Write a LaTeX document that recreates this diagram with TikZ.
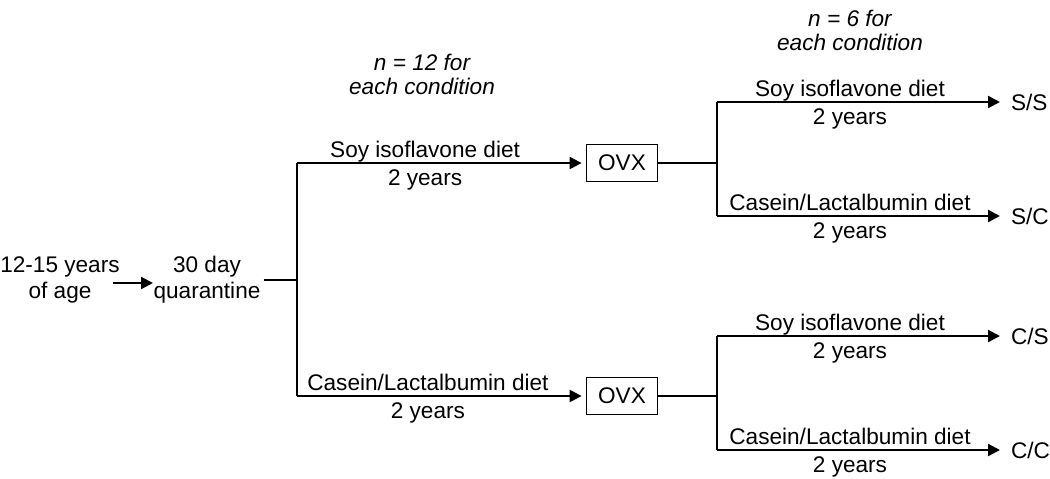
\documentclass[tikz,border=0pt]{standalone}
\usepackage{fontspec}
\setmainfont{Liberation Sans}
\usetikzlibrary{arrows.meta}
\tikzset{
  arr/.style={-{Triangle[length=6pt,width=6pt]}},
  ovxbox/.style={draw, line width=0.9pt, minimum width=35.5pt, minimum height=18.5pt, inner sep=1pt},
  txt/.style={align=center, inner sep=1pt},
  ntxt/.style={align=center, inner sep=1pt, font=\fontsize{11.3}{12}\selectfont\itshape},
  dietup/.style={anchor=base, yshift=2.8pt, inner sep=0pt},
  dietdn/.style={anchor=base, yshift=-11pt, inner sep=0pt},
  grp/.style={anchor=west, inner sep=1pt},
}
\begin{document}
\begin{tikzpicture}[x=0.5pt, y=-0.5pt, font=\fontsize{11.3}{13}\selectfont, line width=1.1pt]
  \useasboundingbox (0,0) rectangle (1050,478);
  \draw
    (60,280) node[txt] (age){12-15 years\\of age}
    (207,280) node[txt] (quar){30 day\\quarantine}
    (622,163) node[ovxbox] (ovxS){OVX}
    (622,396) node[ovxbox] (ovxC){OVX}
    (1008,102) node[grp] (SS){S/S}
    (1008,216) node[grp] (SC){S/C}
    (1008,336) node[grp] (CS){C/S}
    (1008,450) node[grp] (CC){C/C}
    (422,74) node[ntxt] (n12){n = 12 for\\each condition}
    (850,30) node[ntxt] (n6){n = 6 for\\each condition};
  % junctions
  \coordinate (a1) at (113,283);
  \coordinate (a2) at (153,283);
  \coordinate (j0) at (297,280);
  \coordinate (j0s) at (297,163);
  \coordinate (j0c) at (297,396);
  \coordinate (j1) at (717,163);
  \coordinate (j1s) at (717,102);
  \coordinate (j1c) at (717,216);
  \coordinate (j2) at (717,396);
  \coordinate (j2s) at (717,336);
  \coordinate (j2c) at (717,450);
  \begin{scope}[arr]
    \draw (a1) to (a2);
    \draw (j0s) -- node[pos=0.45, dietup] (d1){Soy isoflavone diet}
      node[pos=0.45, dietdn] (y1){2 years} ([xshift=-2pt]ovxS.west);
    \draw (j0c) -- node[pos=0.46, dietup] (d2){Casein/Lactalbumin diet}
      node[pos=0.46, dietdn] (y2){2 years} ([xshift=-2pt]ovxC.west);
    \draw (j1s) -- node[pos=0.47, dietup] (d3){Soy isoflavone diet}
      node[pos=0.47, dietdn] (y3){2 years} ([xshift=-4pt]SS.west);
    \draw (j1c) -- node[pos=0.47, dietup] (d4){Casein/Lactalbumin diet}
      node[pos=0.47, dietdn] (y4){2 years} ([xshift=-4pt]SC.west);
    \draw (j2s) -- node[pos=0.47, dietup] (d5){Soy isoflavone diet}
      node[pos=0.47, dietdn] (y5){2 years} ([xshift=-4pt]CS.west);
    \draw (j2c) -- node[pos=0.47, dietup] (d6){Casein/Lactalbumin diet}
      node[pos=0.47, dietdn] (y6){2 years} ([xshift=-4pt]CC.west);
  \end{scope}
  \begin{scope}[-]
    \draw (quar.east) -- (j0);
    \draw (j0s) -- (j0c);
    \draw (ovxS.east) -- (j1);
    \draw (j1s) -- (j1c);
    \draw (ovxC.east) -- (j2);
    \draw (j2s) -- (j2c);
  \end{scope}
\end{tikzpicture}
\end{document}
